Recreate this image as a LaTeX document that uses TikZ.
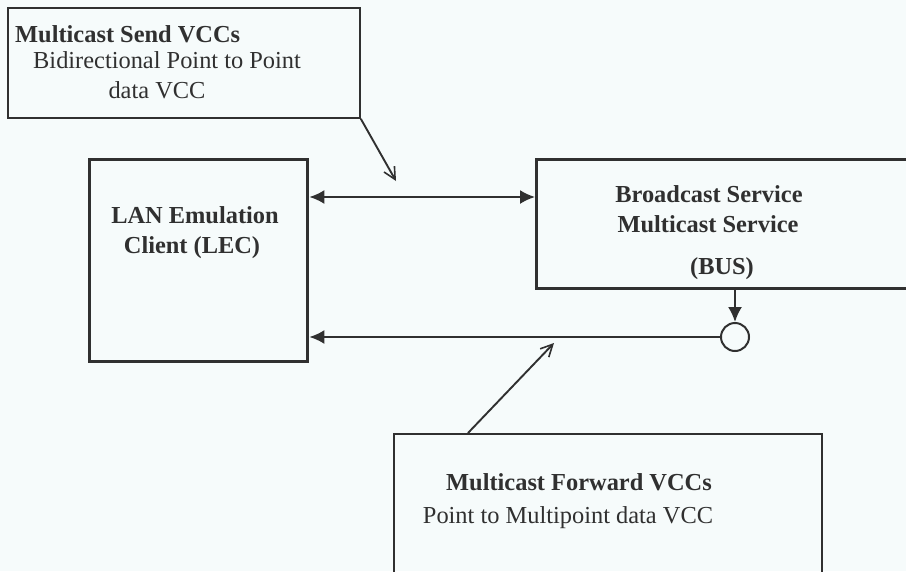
\documentclass[tikz,border=0pt]{standalone}
\usepackage{fontspec}
\setmainfont{Liberation Serif}
\usetikzlibrary{arrows.meta,calc}
\definecolor{bg}{HTML}{F6FBFB}
\definecolor{ink}{HTML}{303030}
\tikzset{
  thinbox/.style={draw=ink,line width=1.8pt,rectangle,inner sep=0pt,anchor=north west},
  thickbox/.style={draw=ink,line width=3.4pt,rectangle,inner sep=0pt,anchor=north west},
  txt/.style={inner sep=0pt,text=ink,font=\fontsize{24.4}{28}\selectfont},
  btxt/.style={txt,font=\fontsize{24.4}{28}\selectfont\bfseries},
  solidtip/.style={-{Latex[length=15pt,width=14pt]}},
  opentip/.style={-{Straight Barb[length=12pt,width=12pt,line width=1.6pt]}},
  conn/.style={draw=ink,line width=1.9pt},
}
\begin{document}
\begin{tikzpicture}[x=1pt,y=-1pt]
\fill[bg] (0,0) rectangle (906,571);
\useasboundingbox (0,0) rectangle (906,571);
\clip (0,0) rectangle (906,571);
% boxes
\node[thinbox,minimum width=352pt,minimum height=110pt] (send) at (7,7) {};
\node[thickbox,minimum width=218pt,minimum height=202pt] (lec) at (88,158) {};
\node[thickbox,minimum width=420pt,minimum height=129pt] (bus) at (535,158) {};
\node[thinbox,minimum width=428pt,minimum height=180pt] (fwd) at (393,433) {};
\node[draw=ink,line width=2pt,circle,minimum size=28pt,inner sep=0pt] (circ) at (735,337) {};
% texts
\node[btxt,anchor=base west] (t1) at (15,42) {Multicast Send VCCs};
\node[txt,anchor=base west] (t2) at (33,68) {Bidirectional Point to Point};
\node[txt,anchor=base] (t3) at (157,98) {data VCC};
\node[btxt,anchor=base] (t4) at (195,223) {LAN Emulation};
\node[btxt,anchor=base] (t5) at (192,253) {Client (LEC)};
\node[btxt,anchor=base] (t6) at (709,202) {Broadcast Service};
\node[btxt,anchor=base] (t7) at (708,232) {Multicast Service};
\node[btxt,anchor=base] (t8) at (722,274) {(BUS)};
\node[btxt,anchor=base] (t9) at (579,490) {Multicast Forward VCCs};
\node[txt,anchor=base] (t10) at (568,523) {Point to Multipoint data VCC};
% connectors
\coordinate (sendtip) at (396,181);
\coordinate (fwdtip) at (554,343);
\coordinate (fwdstart) at (468,433);
\draw[conn,{Latex[length=15pt,width=14pt]}-{Latex[length=15pt,width=14pt]}] (lec.east |- 0,197) -- (bus.west |- 0,197);
\draw[conn,solidtip] (circ.west) -- (lec.east |- circ.west);
\draw[conn,solidtip] (bus.south -| circ.north) -- (circ.north);
\draw[conn,opentip] (send.south east) -- (sendtip);
\draw[conn,opentip] (fwdstart) -- (fwdtip);
\end{tikzpicture}
\end{document}
